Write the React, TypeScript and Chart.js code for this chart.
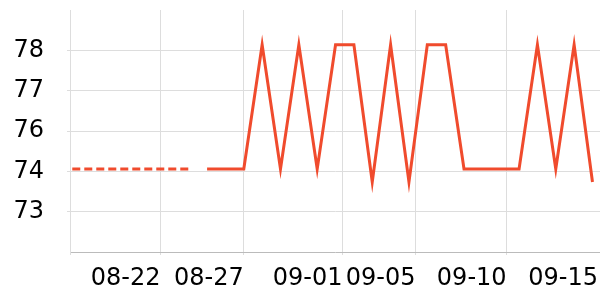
import { useEffect, useRef } from 'react';
import { Chart, registerables } from 'chart.js';

Chart.register(...registerables);

// One entry per daily slot (index = position on the time-series axis)
const DATES = [
  '08-17', '08-18', '08-19', '08-20', '08-21', '08-22', '08-23', '08-24', '08-25', '08-26',
  '08-27', '08-28', '08-29', '08-30', '08-31', '09-01', '09-02', '09-03', '09-04', '09-05',
  '09-06', '09-07', '09-08', '09-09', '09-10', '09-11', '09-12', '09-13', '09-14', '09-15',
];

// Dashed (earlier) series
const PREVIOUS: (number | null)[] = [
  74.42, 74.42, 74.42, 74.42, 74.42, 74.42, 74.42, 74.42,
  null, null, null, null, null, null, null, null, null, null, null,
  null, null, null, null, null, null, null, null, null, null, null,
];

// Solid (current) series
const CURRENT: (number | null)[] = [
  null, null, null, null, null, null, null, null,
  74.42, 74.42, 74.42, 78.27, 74.42, 78.27, 74.42, 78.27, 78.27, 74.02,
  78.27, 74.02, 78.27, 78.27, 74.42, 74.42, 74.42, 74.42, 78.27, 74.42,
  78.27, 74.02,
];

// x-axis ticks (in slot units of the time-series axis) and their labels
const X_TICK_POS = [0.53, 5.46, 10, 15.38, 19.36, 24.32, 29.3];
const X_TICK_LABELS = ['', '08-22', '08-27', '09-01', '09-05', '09-10', '09-15'];
const X_MIN = 0.53;
const X_MAX = 29.41;

// y-axis ticks and labels
const Y_TICK_VALUES = [73.1, 74.35, 75.6, 76.85, 78.1];
const Y_TICK_LABELS = ['73', '74', '76', '77', '78'];
const Y_MIN = 71.85;
const Y_MAX = 79.35;

const LINE_COLOR = '#f04b2d';
const GRID_COLOR = '#dddddd';
const FONT = { family: "'DejaVu Sans', sans-serif", size: 24 };

const zeroPadding = (scale: any) => {
  scale.paddingTop = 0;
  scale.paddingBottom = 0;
  scale.paddingLeft = 0;
  scale.paddingRight = 0;
};

export default function App() {
  const canvasRef = useRef<HTMLCanvasElement | null>(null);

  useEffect(() => {
    const canvas = canvasRef.current;
    if (!canvas) return;
    const chart = new Chart(canvas, {
      type: 'line',
      data: {
        datasets: [
          {
            label: 'previous',
            data: PREVIOUS.map((y, i) => ({ x: i, y, date: DATES[i] })) as any,
            borderColor: LINE_COLOR,
            borderWidth: 3,
            borderDash: [8, 4],
            borderCapStyle: 'butt',
            pointRadius: 0,
            tension: 0,
            clip: 0,
          },
          {
            label: 'current',
            data: CURRENT.map((y, i) => ({ x: i, y, date: DATES[i] })) as any,
            borderColor: LINE_COLOR,
            borderWidth: 3,
            borderJoinStyle: 'miter',
            pointRadius: 0,
            tension: 0,
          },
        ],
      },
      options: {
        animation: false,
        responsive: true,
        maintainAspectRatio: false,
        devicePixelRatio: 1,
        layout: { padding: { top: 10, right: 0, bottom: 0, left: 0 } },
        plugins: { legend: { display: false }, tooltip: { enabled: false } },
        scales: {
          x: {
            type: 'linear',
            min: X_MIN,
            max: X_MAX,
            afterBuildTicks: (scale: any) => {
              scale.ticks = X_TICK_POS.map((v) => ({ value: v }));
            },
            afterFit: (scale: any) => {
              scale.height = 48;
              zeroPadding(scale);
            },
            grid: {
              color: (ctx: any) => (ctx.index === X_TICK_POS.length - 1 ? 'rgba(0,0,0,0)' : GRID_COLOR),
              tickLength: 3,
            },
            border: { color: '#bbbbbb' },
            ticks: {
              autoSkip: false,
              maxRotation: 0,
              minRotation: 0,
              align: 'end',
              padding: 9,
              color: '#000',
              font: FONT,
              callback: (_v: any, i: number) => X_TICK_LABELS[i],
            },
          },
          y: {
            type: 'linear',
            min: Y_MIN,
            max: Y_MAX,
            afterBuildTicks: (scale: any) => {
              scale.ticks = Y_TICK_VALUES.map((v) => ({ value: v }));
            },
            afterFit: (scale: any) => {
              scale.width = 70;
              zeroPadding(scale);
            },
            grid: { color: GRID_COLOR, tickLength: 3 },
            border: { color: GRID_COLOR },
            ticks: {
              padding: 23,
              color: '#000',
              font: FONT,
              callback: (_v: any, i: number) => Y_TICK_LABELS[i],
            },
          },
        },
      } as any,
    });
    return () => chart.destroy();
  }, []);

  return (
    <div style={{ position: 'fixed', left: 0, top: 0, width: 600, height: 300 }}>
      <canvas ref={canvasRef} />
    </div>
  );
}
